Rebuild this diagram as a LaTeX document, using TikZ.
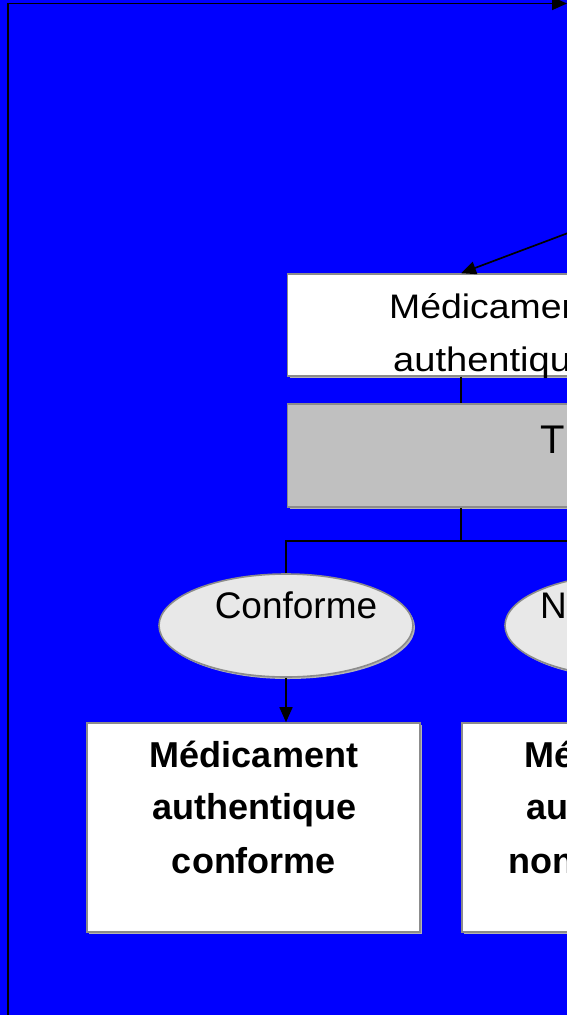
\documentclass[tikz,border=0pt]{standalone}
\usepackage{fontspec}
\setmainfont{Liberation Sans}
\usetikzlibrary{arrows.meta,shapes.geometric,shadows}
\definecolor{bgblue}{HTML}{0000FF}
\definecolor{boxborder}{HTML}{8C8C8C}
\definecolor{shadowgray}{HTML}{B4B4B4}
\definecolor{testgray}{HTML}{C0C0C0}
\definecolor{ellfill}{HTML}{E8E8E8}
\tikzset{
  boxshape/.style={draw=boxborder, line width=1.6pt, rectangle, inner sep=0pt,
    drop shadow={fill=shadowgray, opacity=1, shadow xshift=2pt, shadow yshift=-2pt}},
  whitebox/.style={boxshape, fill=white},
  graybox/.style={boxshape, fill=testgray},
  ellshape/.style={ellipse, draw=boxborder, line width=1.6pt, fill=ellfill, inner sep=0pt,
    minimum width=254pt, minimum height=103pt,
    drop shadow={fill=shadowgray, opacity=1, shadow xshift=2pt, shadow yshift=-2pt}},
  conn/.style={draw=black, line width=1.7pt},
  arr/.style={conn, -{Triangle[length=15pt,width=13pt]}},
  regtxt/.style={inner sep=0pt, font=\fontsize{34}{40}\selectfont},
  bigtxt/.style={inner sep=0pt, font=\fontsize{40}{48}\selectfont},
  elltxt/.style={inner sep=0pt, font=\fontsize{37}{44}\selectfont},
  boldtxt/.style={inner sep=0pt, font=\fontsize{36}{43}\bfseries\selectfont},
}
\begin{document}
\begin{tikzpicture}[x=1pt,y=-1pt]
\useasboundingbox (0,0) rectangle (567,1015);
\fill[bgblue] (0,0) rectangle (567,1015);

% boxes
\node[whitebox, minimum width=347pt, minimum height=102pt] (box1) at (461,325) {};
\node[graybox, minimum width=347pt, minimum height=103pt] (box2) at (461,455.5) {};
\node[ellshape] (ell1) at (286,625.5) {};
\node[ellshape] (ell2) at (632,625.5) {};
\node[whitebox, minimum width=333pt, minimum height=209pt] (box3) at (253.5,827.5) {};
\node[whitebox, minimum width=333pt, minimum height=209pt] (box4) at (628.5,827.5) {};

% texts
\node[regtxt, anchor=base west] (t1a) at (389,318) {\scalebox{1.1}[1]{Médicament}};
\node[regtxt, anchor=base west] (t1b) at (393,371) {\scalebox{1.12}[1]{authentique}};
\node[bigtxt, anchor=base west] (t2) at (540,453) {T};
\node[elltxt, anchor=base] (te1) at (296,618) {Conforme};
\node[elltxt, anchor=base west] (te2) at (540,618) {N};
\node[boldtxt, anchor=base] (t3a) at (254,767) {Médicament};
\node[boldtxt, anchor=base] (t3b) at (254,819) {authentique};
\node[boldtxt, anchor=base] (t3c) at (254,873) {conforme};
\node[boldtxt, anchor=base] (t4a) at (628.5,767) {Médicament};
\node[boldtxt, anchor=base] (t4b) at (628.5,819) {authentique};
\node[boldtxt, anchor=base] (t4c) at (628.5,873) {non conforme};

% coordinates for free ends
\coordinate (loopStart) at (8,1030);
\coordinate (loopCorner) at (8,3.5);
\coordinate (loopEnd) at (567,3.5);
\coordinate (diagSrc) at (600,221);
\coordinate (branch) at (461,541);

% connectors
\draw[arr] (loopStart) -- (loopCorner) -- (loopEnd);
\draw[arr] (diagSrc) -- (box1.north);
\draw[conn] (box1.south) -- (box2.north);
\draw[conn] (box2.south) -- (branch);
\draw[conn] (ell1.north) -- (ell1.north |- branch) -- (ell2.north |- branch) -- (ell2.north);
\draw[arr] (ell1.south) -- (ell1.south |- box3.north);
\draw[arr] (ell2.south) -- (ell2.south |- box4.north);
\end{tikzpicture}
\end{document}
